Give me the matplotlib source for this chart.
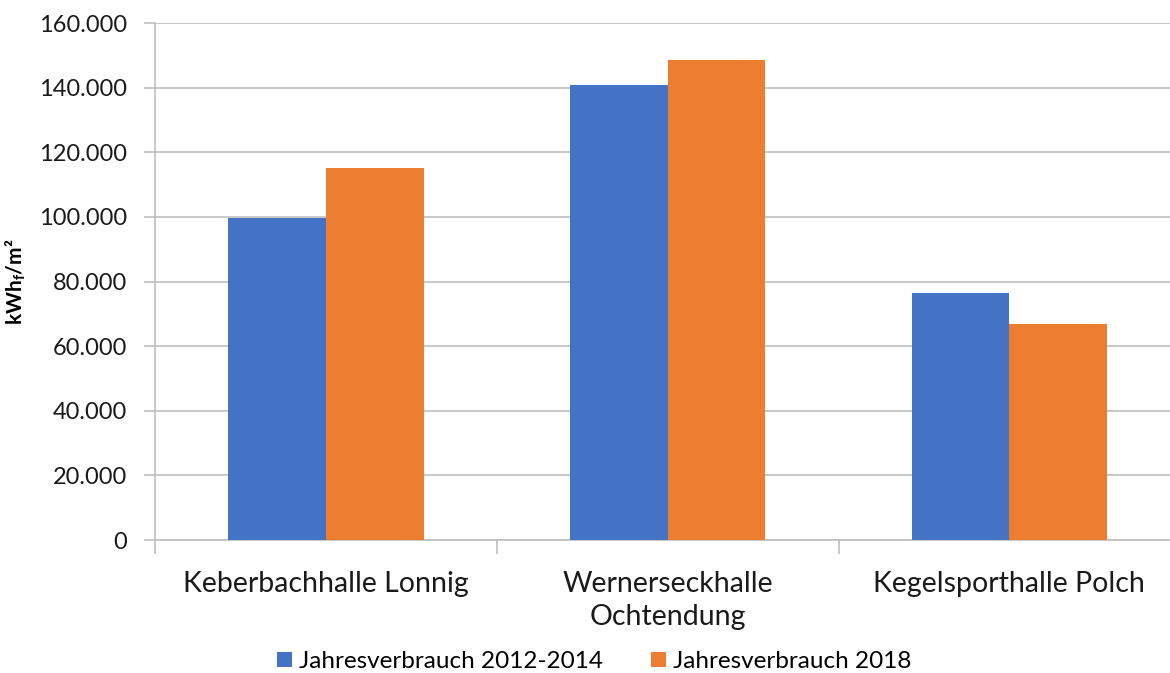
import matplotlib.pyplot as plt
import matplotlib.ticker as mticker
import numpy as np

plt.rcParams["font.family"] = ["Lato", "DejaVu Sans"]
plt.rcParams["mathtext.fontset"] = "custom"
plt.rcParams["mathtext.rm"] = "Lato"
plt.rcParams["mathtext.bf"] = "Lato:bold"

# data
hallen = ["Keberbachhalle Lonnig", "Wernerseckhalle\nOchtendung", "Kegelsporthalle Polch"]
verbrauch_2012_2014 = [99600, 140800, 76600]
verbrauch_2018 = [115200, 148600, 66800]
serien = ["Jahresverbrauch 2012-2014", "Jahresverbrauch 2018"]

fig = plt.figure(figsize=(11.7, 6.73), dpi=100)
ax = fig.add_axes([0.1325, 0.1976, 0.8675, 0.7682])

x = np.arange(len(hallen))
w = 0.286
ax.bar(x - w / 2, verbrauch_2012_2014, w, color="#4472C4", label=serien[0], zorder=3)
ax.bar(x + w / 2, verbrauch_2018, w, color="#ED7D31", label=serien[1], zorder=3)

ax.set_ylim(0, 160000)
ax.set_xlim(-0.5, 2.47)
ax.yaxis.set_major_locator(mticker.MultipleLocator(20000))
ax.yaxis.set_major_formatter(
    mticker.FuncFormatter(lambda v, p: f"{int(v):,}".replace(",", "."))
)
ax.grid(axis="y", color="#bfbfbf", linewidth=1.2, zorder=0)

# category labels without ticks, boundary ticks on x
ax.set_xticks(x)
ax.set_xticklabels(hallen, fontsize=20.5, color="#1a1a1a", va="top", linespacing=1.35)
ax.tick_params(axis="x", length=0, pad=22)
ax.set_xticks([-0.5, 0.5, 1.5], minor=True)
ax.tick_params(axis="x", which="minor", length=10, color="#bfbfbf", width=1.2)
ax.tick_params(axis="y", length=8, color="#bfbfbf", width=1.2, labelsize=17,
               labelcolor="#1a1a1a", pad=12)

for s in ["top", "right"]:
    ax.spines[s].set_visible(False)
ax.spines["left"].set_color("#bfbfbf")
ax.spines["bottom"].set_color("#bfbfbf")
ax.spines["left"].set_linewidth(1.2)
ax.spines["bottom"].set_linewidth(1.2)

ax.set_ylabel(r"kWh$_\mathbf{f}$/m²", fontsize=15, fontweight="bold", labelpad=8)

fig.legend(loc="center", bbox_to_anchor=(0.508, 0.017), ncol=2, frameon=False,
           fontsize=17.5, handlelength=0.6, handleheight=0.6, handletextpad=0.3,
           columnspacing=2.0)

fig.savefig("out.png", dpi=100)
